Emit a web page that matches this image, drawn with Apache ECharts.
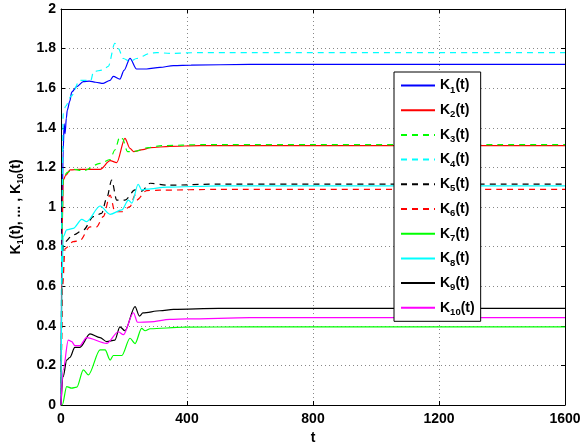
<!DOCTYPE html>
<html>
<head>
<meta charset="utf-8">
<script src="https://cdn.jsdelivr.net/npm/echarts@6/dist/echarts.min.js"></script>
<style>
  html, body { margin: 0; padding: 0; background: #fff; }
  #chart { width: 582px; height: 444px; }
</style>
</head>
<body>
<div id="chart"></div>
<script>
// Time axis ticks and value axis ticks
const xTicks = [0, 400, 800, 1200, 1600];
const yTicks = [0, 0.2, 0.4, 0.6, 0.8, 1, 1.2, 1.4, 1.6, 1.8, 2];

// Trajectories K_i(t) as [t, value] pairs
const k1 = [[0,0],[3,0.9],[7,1.29],[10,1.42],[13,1.37],[17,1.45],[20,1.49],[28,1.535],[34,1.58],[50,1.608],[71,1.633],[90,1.636],[110,1.63],[134,1.624],[156,1.64],[166,1.66],[187,1.646],[200,1.69],[219,1.751],[240,1.697],[272,1.697],[314,1.705],[357,1.714],[413,1.717],[600,1.72],[1600,1.72]];
const k2 = [[0,0],[4,0.9],[7,1.136],[15,1.16],[29,1.187],[60,1.19],[124,1.19],[156,1.234],[177,1.224],[203,1.347],[219,1.296],[230,1.28],[260,1.29],[283,1.30],[346,1.306],[441,1.31],[1600,1.31]];
const k3 = [[0,0],[4,0.95],[7,1.15],[20,1.175],[40,1.19],[71,1.183],[124,1.22],[156,1.24],[171,1.288],[187,1.355],[195,1.345],[211,1.28],[230,1.28],[278,1.30],[320,1.31],[450,1.315],[1600,1.315]];
const k4 = [[0,0],[3,1.0],[7,1.473],[15,1.51],[32,1.56],[60,1.64],[95,1.64],[103,1.684],[134,1.692],[150,1.71],[171,1.827],[182,1.80],[198,1.75],[219,1.734],[240,1.75],[283,1.776],[304,1.78],[346,1.776],[450,1.78],[1600,1.78]];
const k5 = [[0,0],[4,0.6],[7,0.817],[39,0.859],[71,0.884],[103,0.951],[129,0.968],[145,1.044],[161,1.136],[177,1.035],[203,1.035],[235,1.086],[256,1.08],[283,1.12],[336,1.11],[500,1.116],[1600,1.116]];
const k6 = [[0,0],[5,0.6],[13,0.79],[39,0.825],[60,0.83],[92,0.90],[113,0.90],[134,0.951],[156,1.06],[171,0.976],[193,0.976],[219,1.002],[235,1.06],[240,1.035],[272,1.083],[314,1.085],[500,1.089],[1600,1.089]];
const k7 = [[0,0],[4,0],[18,0.093],[34,0.085],[50,0.09],[71,0.177],[87,0.152],[124,0.278],[140,0.278],[156,0.227],[166,0.25],[193,0.25],[219,0.337],[235,0.31],[256,0.387],[267,0.375],[283,0.385],[388,0.393],[600,0.395],[1600,0.395]];
const k8 = [[0,0],[3,0.6],[7,0.85],[18,0.884],[39,0.892],[66,0.938],[81,0.926],[124,1.005],[156,0.963],[193,0.985],[214,1.035],[225,1.02],[245,1.115],[256,1.086],[272,1.09],[336,1.10],[500,1.107],[1600,1.107]];
const k9 = [[0,0],[7,0.143],[18,0.227],[28,0.24],[44,0.291],[60,0.291],[92,0.359],[124,0.34],[145,0.32],[171,0.328],[187,0.395],[203,0.375],[235,0.497],[249,0.449],[260,0.465],[314,0.476],[357,0.483],[500,0.488],[1600,0.488]];
const k10 = [[0,0],[7,0.177],[23,0.328],[34,0.32],[44,0.30],[60,0.30],[81,0.34],[145,0.311],[182,0.37],[198,0.355],[230,0.466],[243,0.418],[283,0.42],[346,0.432],[400,0.435],[600,0.441],[1600,0.441]];

const seriesData = [k1, k2, k3, k4, k5, k6, k7, k8, k9, k10];
const seriesNames = ['K1(t)', 'K2(t)', 'K3(t)', 'K4(t)', 'K5(t)', 'K6(t)', 'K7(t)', 'K8(t)', 'K9(t)', 'K10(t)'];
const seriesColors = ['#0000ff', '#ff0000', '#00ff00', '#00ffff', '#000000', '#ff0000', '#00ff00', '#00ffff', '#000000', '#ff00ff'];
const seriesDashed = [false, false, true, true, true, true, false, false, false, false];

const FONT = 'Liberation Sans, Arial, sans-serif';
const subRich = {
  sub: { fontSize: 9.5, fontWeight: 'bold', fontFamily: FONT, color: '#000', lineHeight: 19, verticalAlign: 'bottom' }
};
const toRich = s => s.replace(/K(\d+)/g, 'K{sub|$1}');

const chart = echarts.init(document.getElementById('chart'), null, { renderer: 'canvas' });

const axisBase = {
  axisLine: { show: true, onZero: false, lineStyle: { color: '#000', width: 1 } },
  axisTick: { show: true, inside: true, length: 4, lineStyle: { color: '#000' } }
};

chart.setOption({
  animation: false,
  backgroundColor: '#fff',
  grid: { left: 61, right: 17, top: 9, bottom: 39, containLabel: false, outerBoundsMode: 'none' },
  xAxis: [
    Object.assign({
      type: 'value', min: xTicks[0], max: xTicks[xTicks.length - 1], interval: xTicks[1] - xTicks[0],
      name: 't', nameLocation: 'middle', nameGap: 21,
      nameTextStyle: { fontFamily: FONT, fontWeight: 'bold', fontSize: 14, color: '#000' },
      axisLabel: { fontFamily: FONT, fontWeight: 'bold', fontSize: 14, color: '#000', margin: 7, formatter: v => String(v) },
      splitLine: { show: true, lineStyle: { color: '#888', type: [1, 3], width: 1 } }
    }, axisBase),
    Object.assign({
      type: 'value', position: 'top', min: xTicks[0], max: xTicks[xTicks.length - 1], interval: xTicks[1] - xTicks[0],
      axisLabel: { show: false }, splitLine: { show: false }
    }, axisBase)
  ],
  yAxis: [
    Object.assign({
      type: 'value', min: yTicks[0], max: yTicks[yTicks.length - 1], interval: 0.2,
      name: toRich('K1(t), ... , K10(t)'), nameLocation: 'middle', nameGap: 34, nameRotate: 90,
      nameTextStyle: { fontFamily: FONT, fontWeight: 'bold', fontSize: 14, color: '#000', lineHeight: 19, rich: subRich },
      axisLabel: { fontFamily: FONT, fontWeight: 'bold', fontSize: 14, color: '#000', margin: 5, formatter: v => String(v) },
      splitLine: { show: true, lineStyle: { color: '#888', type: [1, 3], width: 1 } }
    }, axisBase),
    Object.assign({
      type: 'value', position: 'right', min: yTicks[0], max: yTicks[yTicks.length - 1], interval: 0.2,
      axisLabel: { show: false }, splitLine: { show: false }
    }, axisBase)
  ],
  legend: {
    orient: 'vertical', left: 394, top: 72,
    backgroundColor: '#fff', borderColor: '#000', borderWidth: 1,
    padding: [4, 6, 4, 6],
    itemWidth: 34, itemHeight: 14, itemGap: 5.7, itemTextGap: 5,
    data: seriesNames,
    itemStyle: { opacity: 0 },
    formatter: name => toRich(name),
    textStyle: { fontFamily: FONT, fontWeight: 'bold', fontSize: 14, color: '#000', lineHeight: 19, rich: subRich }
  },
  series: seriesData.map((d, i) => ({
    name: seriesNames[i],
    type: 'line',
    data: d,
    symbol: 'none',
    showSymbol: false,
    smooth: 0.3,
    smoothMonotone: 'x',
    lineStyle: { color: seriesColors[i], width: 1.2, type: seriesDashed[i] ? [6, 5] : 'solid' },
    itemStyle: { color: seriesColors[i] },
    emphasis: { disabled: true }
  }))
});
</script>
</body>
</html>
